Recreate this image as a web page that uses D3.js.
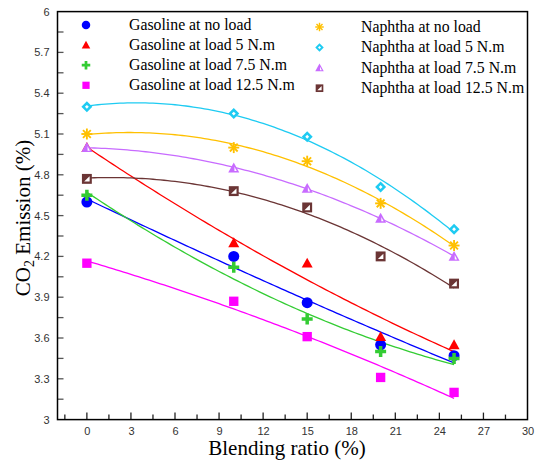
<!DOCTYPE html>
<html><head><meta charset="utf-8">
<script src="https://cdn.jsdelivr.net/npm/d3@7"></script>
<style>body{margin:0;background:#fff}svg{display:block}</style>
</head><body>
<script>
const blendRatio = [0, 10, 15, 20, 25];
const seriesNames = [
  "Gasoline at no load", "Gasoline at load 5 N.m", "Gasoline at load 7.5 N.m", "Gasoline at load 12.5 N.m",
  "Naphtha at no load", "Naphtha at load 5 N.m", "Naphtha at load 7.5 N.m", "Naphtha at load 12.5 N.m"
];
const gasolineNoLoad = [4.60, 4.20, 3.86, 3.55, 3.47];
const gasolineLoad5 = [5.00, 4.30, 4.15, 3.61, 3.55];
const gasolineLoad75 = [4.65, 4.12, 3.74, 3.50, 3.45];
const gasolineLoad125 = [4.15, 3.87, 3.61, 3.31, 3.20];
const naphthaNoLoad = [5.10, 5.00, 4.90, 4.59, 4.28];
const naphthaLoad5 = [5.30, 5.25, 5.08, 4.71, 4.40];
const naphthaLoad75 = [5.00, 4.85, 4.70, 4.48, 4.20];
const naphthaLoad125 = [4.77, 4.68, 4.56, 4.20, 4.00];
const seriesValues = [gasolineNoLoad, gasolineLoad5, gasolineLoad75, gasolineLoad125,
  naphthaNoLoad, naphthaLoad5, naphthaLoad75, naphthaLoad125];
const colors = ["#0000ff", "#ff0000", "#33cc33", "#ff00ff", "#ffc000", "#1ecbf2", "#c86bff", "#6b3535"];
const markers = ["circle", "triangle", "plus", "square", "star", "diamond", "triHalf", "sqHalf"];
const xTicks = [0, 3, 6, 9, 12, 15, 18, 21, 24, 27, 30];
const yTicks = [3, 3.3, 3.6, 3.9, 4.2, 4.5, 4.8, 5.1, 5.4, 5.7, 6];

const W = 535, H = 462;
const svg = d3.select("body").append("svg").attr("width", W).attr("height", H);
const x = d3.scaleLinear().domain([-2, 30]).range([57.5, 527.5]);
const y = d3.scaleLinear().domain([3, 6]).range([419.6, 11.6]);

// quadratic least squares fit
function quadFit(xs, ys) {
  let n = xs.length, s = [0,0,0,0,0], t = [0,0,0];
  for (let i = 0; i < n; i++) {
    const xi = xs[i], yi = ys[i];
    for (let k = 0; k < 5; k++) s[k] += Math.pow(xi, k);
    for (let k = 0; k < 3; k++) t[k] += yi * Math.pow(xi, k);
  }
  const A = [[s[0], s[1], s[2], t[0]], [s[1], s[2], s[3], t[1]], [s[2], s[3], s[4], t[2]]];
  for (let i = 0; i < 3; i++) {
    let p = i;
    for (let r = i + 1; r < 3; r++) if (Math.abs(A[r][i]) > Math.abs(A[p][i])) p = r;
    [A[i], A[p]] = [A[p], A[i]];
    for (let r = 0; r < 3; r++) if (r !== i) {
      const f = A[r][i] / A[i][i];
      for (let c = i; c < 4; c++) A[r][c] -= f * A[i][c];
    }
  }
  const c = [A[0][3] / A[0][0], A[1][3] / A[1][1], A[2][3] / A[2][2]];
  return v => c[0] + c[1] * v + c[2] * v * v;
}

const plot = svg.append("g");
const line = d3.line().x(d => x(d[0])).y(d => y(d[1])).curve(d3.curveLinear);
seriesValues.forEach((vals, i) => {
  const f = quadFit(blendRatio, vals);
  const pts = d3.range(0, 25.001, 0.25).map(v => [v, f(v)]);
  plot.append("path").attr("d", line(pts)).attr("fill", "none")
    .attr("stroke", colors[i]).attr("stroke-width", 1.3);
});

function drawMarker(g, type, color, s) {
  const h = s / 2;
  if (type === "circle") g.append("circle").attr("r", h).attr("fill", color);
  else if (type === "triangle") g.append("path").attr("d", `M0,${-h}L${h},${h*0.8}L${-h},${h*0.8}Z`).attr("fill", color);
  else if (type === "plus") {
    const w = s * 0.32;
    g.append("path").attr("d", `M${-w/2},${-h}h${w}v${h-w/2}h${h-w/2}v${w}h${-(h-w/2)}v${h-w/2}h${-w}v${-(h-w/2)}h${-(h-w/2)}v${-w}h${h-w/2}Z`).attr("fill", color);
  }
  else if (type === "square") g.append("rect").attr("x", -h*0.85).attr("y", -h*0.85).attr("width", s*0.85).attr("height", s*0.85).attr("fill", color);
  else if (type === "star") {
    for (let k = 0; k < 4; k++) {
      const a = k * Math.PI / 4;
      g.append("line").attr("x1", -h * Math.cos(a)).attr("y1", -h * Math.sin(a))
        .attr("x2", h * Math.cos(a)).attr("y2", h * Math.sin(a))
        .attr("stroke", color).attr("stroke-width", s * 0.17);
    }
  }
  else if (type === "diamond") {
    g.append("path").attr("d", `M0,${-h}L${h},0L0,${h}L${-h},0Z`).attr("fill", color);
    const q = h * 0.35;
    g.append("path").attr("d", `M0,${-q}L${q},0L0,${q}L${-q},0Z`).attr("fill", "#fff");
  }
  else if (type === "triHalf") {
    g.append("path").attr("d", `M0,${-h}L${h},${h*0.8}L${-h},${h*0.8}Z`).attr("fill", color);
    g.append("path").attr("d", `M${h*0.12},${-h*0.25}L${h*0.55},${h*0.55}L${h*0.12},${h*0.55}Z`).attr("fill", "#fff");
  }
  else if (type === "sqHalf") {
    const a = h * 0.9;
    g.append("rect").attr("x", -a).attr("y", -a).attr("width", 2*a).attr("height", 2*a).attr("fill", color);
    const b = a * 0.55;
    g.append("path").attr("d", `M${b},${-b}L${b},${b}L${-b},${b}Z`).attr("fill", "#fff");
  }
}

seriesValues.forEach((vals, i) => {
  vals.forEach((v, j) => {
    const g = plot.append("g").attr("transform", `translate(${x(blendRatio[j])},${y(v)})`);
    drawMarker(g, markers[i], colors[i], 11);
  });
});

// axes
const xAxis = d3.axisBottom(x).tickValues(xTicks).tickSize(0).tickPadding(8).tickFormat(d3.format("d"));
const gx = svg.append("g").attr("transform", `translate(0,${y(3)})`).call(xAxis);
gx.select(".domain").remove();
gx.selectAll("text").attr("font-family", "Liberation Sans, Arial, sans-serif").attr("font-size", 11).attr("fill", "#333");
const yAxis = d3.axisLeft(y).tickValues(yTicks).tickSize(0).tickPadding(8).tickFormat(d => d3.format("")(+d.toFixed(1)));
const gy = svg.append("g").attr("transform", `translate(${x(-2)},0)`).call(yAxis);
gy.select(".domain").remove();
gy.selectAll("text").attr("font-family", "Liberation Sans, Arial, sans-serif").attr("font-size", 11).attr("fill", "#333");

// inward ticks
const ticksG = svg.append("g").attr("stroke", "#222").attr("stroke-width", 1.3);
d3.range(-1.5, 30, 1.5).forEach(v => {
  const major = Math.abs(v / 3 - Math.round(v / 3)) < 1e-6;
  ticksG.append("line").attr("x1", x(v)).attr("x2", x(v)).attr("y1", y(3)).attr("y2", y(3) - (major ? 7 : 5));
});
d3.range(3.15, 6, 0.15).forEach(v => {
  ticksG.append("line").attr("x1", x(-2)).attr("x2", x(-2) + 6).attr("y1", y(v)).attr("y2", y(v)).attr("stroke", "#555");
});

// frame
svg.append("rect").attr("x", x(-2)).attr("y", y(6)).attr("width", x(30) - x(-2)).attr("height", y(3) - y(6))
  .attr("fill", "none").attr("stroke", "#000").attr("stroke-width", 1.5);

// legend
const legendPos = [
  {mx: 86, tx: 129, y0: 25, dy: 20.1},
  {mx: 319.5, tx: 361, y0: 27, dy: 20.4}
];
seriesNames.forEach((name, i) => {
  const col = i < 4 ? 0 : 1, row = i % 4;
  const p = legendPos[col];
  const yy = p.y0 + row * p.dy;
  const g = svg.append("g").attr("transform", `translate(${p.mx},${yy})`);
  drawMarker(g, markers[i], colors[i], 8.5);
  svg.append("text").attr("x", p.tx).attr("y", yy + 5).text(name)
    .attr("font-family", "Liberation Serif, Times New Roman, serif").attr("font-size", 15.8).attr("fill", "#000");
});

// axis titles
svg.append("text").attr("x", 287).attr("y", 455).attr("text-anchor", "middle")
  .attr("font-family", "Liberation Serif, Times New Roman, serif").attr("font-size", 21).text("Blending ratio (%)");
const yt = svg.append("text").attr("transform", "translate(30,218) rotate(-90)").attr("text-anchor", "middle")
  .attr("font-family", "Liberation Serif, Times New Roman, serif").attr("font-size", 21);
yt.append("tspan").text("CO");
yt.append("tspan").attr("font-size", 14).attr("dy", 4).text("2");
yt.append("tspan").attr("dy", -4).text(" Emission (%)");
</script>
</body></html>
